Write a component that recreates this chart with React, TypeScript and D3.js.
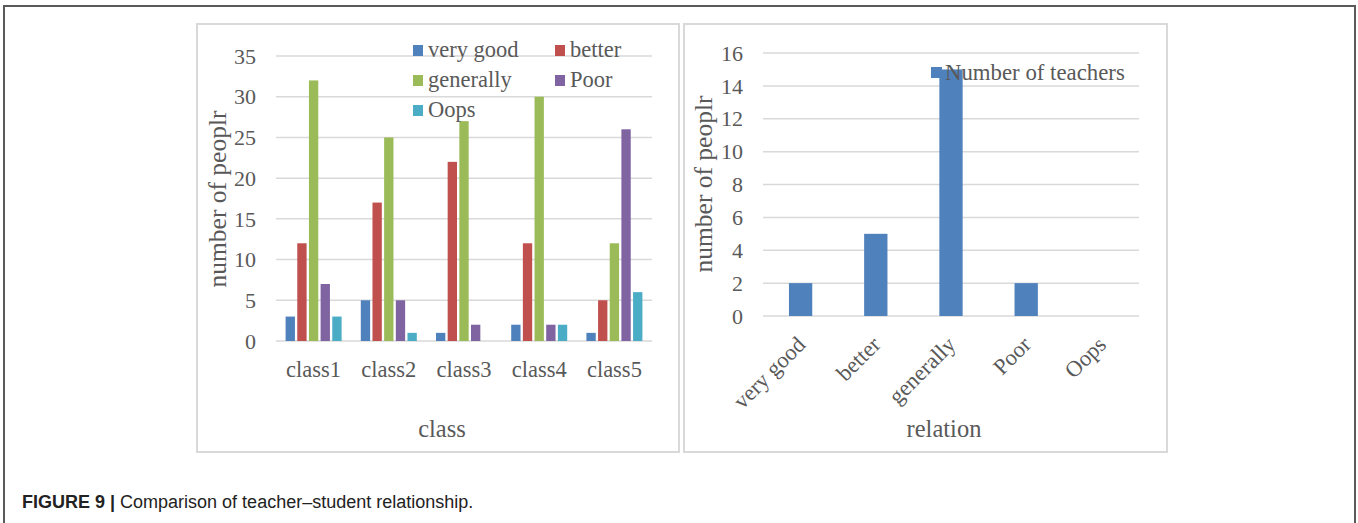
import React from "react";
import * as d3 from "d3";

// Student ratings per class
const classes = ["class1", "class2", "class3", "class4", "class5"];
const ratingNames = ["very good", "better", "generally", "Poor", "Oops"];
const veryGood = [3, 5, 1, 2, 1];
const better = [12, 17, 22, 12, 5];
const generally = [32, 25, 27, 30, 12];
const poor = [7, 5, 2, 2, 26];
const oops = [3, 1, 0, 2, 6];
const studentTicks = [0, 5, 10, 15, 20, 25, 30, 35];

// Teacher ratings
const teacherCounts = [2, 5, 15, 2, 0];
const teacherTicks = [0, 2, 4, 6, 8, 10, 12, 14, 16];

const seriesColors = ["#4f81bd", "#c0504d", "#9bbb59", "#8064a2", "#4bacc6"];
const studentSeries = [veryGood, better, generally, poor, oops];

const W = 1358;
const H = 523;
const SERIF = "'Liberation Serif', 'Times New Roman', serif";
const TEXT = "#595959";
const GRID = "#d9d9d9";

function StudentChart() {
  const x = d3.scaleBand<string>().domain(classes).range([276, 652]).padding(0);
  const y = d3.scaleLinear().domain([0, 35]).range([341, 56]);
  const inner = d3
    .scaleBand<string>()
    .domain(ratingNames)
    .range([-28, 28])
    .paddingInner(0.2);
  const legendPos = [
    [413, 45],
    [555, 45],
    [413, 75],
    [555, 75],
    [413, 105],
  ];
  return (
    <g>
      <rect x={197} y={24} width={482} height={428} fill="#fff" stroke={GRID} strokeWidth={2} />
      {studentTicks.map((t) => (
        <g key={t}>
          <line x1={276} x2={652} y1={y(t)} y2={y(t)} stroke={GRID} strokeWidth={1.5} />
          <text x={256} y={y(t)} dy="0.35em" textAnchor="end" fontSize={22} fill={TEXT} fontFamily={SERIF}>
            {t}
          </text>
        </g>
      ))}
      {studentSeries.map((vals, si) =>
        vals.map((v, ci) => {
          const cx = (x(classes[ci]) as number) + x.bandwidth() / 2;
          return (
            <rect
              key={`${si}-${ci}`}
              x={cx + (inner(ratingNames[si]) as number)}
              y={y(v)}
              width={inner.bandwidth()}
              height={y(0) - y(v)}
              fill={seriesColors[si]}
            />
          );
        })
      )}
      {classes.map((c) => (
        <text
          key={c}
          x={(x(c) as number) + x.bandwidth() / 2}
          y={377}
          textAnchor="middle"
          fontSize={22.5}
          fill={TEXT}
          fontFamily={SERIF}
        >
          {c}
        </text>
      ))}
      <text x={442} y={437} textAnchor="middle" fontSize={24.5} fill={TEXT} fontFamily={SERIF}>
        class
      </text>
      <text
        transform="translate(226,199) rotate(-90)"
        textAnchor="middle"
        fontSize={25.5}
        fill={TEXT}
        fontFamily={SERIF}
      >
        number of peoplr
      </text>
      {ratingNames.map((n, i) => (
        <g key={n}>
          <rect x={legendPos[i][0]} y={legendPos[i][1]} width={10} height={11} fill={seriesColors[i]} />
          <text
            x={legendPos[i][0] + 15}
            y={legendPos[i][1] + 11.5}
            fontSize={22.5}
            fill={TEXT}
            fontFamily={SERIF}
          >
            {n}
          </text>
        </g>
      ))}
    </g>
  );
}

function TeacherChart() {
  const x = d3
    .scaleBand<string>()
    .domain(ratingNames)
    .range([763, 1139])
    .paddingInner(0.69)
    .paddingOuter(0.345);
  const y = d3.scaleLinear().domain([0, 16]).range([316, 53]);
  return (
    <g>
      <rect x={684} y={24} width={483} height={428} fill="#fff" stroke={GRID} strokeWidth={2} />
      {teacherTicks.map((t) => (
        <g key={t}>
          <line x1={763} x2={1139} y1={y(t)} y2={y(t)} stroke={GRID} strokeWidth={1.5} />
          <text x={743} y={y(t)} dy="0.35em" textAnchor="end" fontSize={22} fill={TEXT} fontFamily={SERIF}>
            {t}
          </text>
        </g>
      ))}
      {teacherCounts.map((v, i) => (
        <rect
          key={i}
          x={x(ratingNames[i]) as number}
          y={y(v)}
          width={x.bandwidth()}
          height={y(0) - y(v)}
          fill={seriesColors[0]}
        />
      ))}
      {ratingNames.map((n) => {
        const cx = (x(n) as number) + x.bandwidth() / 2;
        return (
          <text
            key={n}
            transform={`translate(${cx + 6},346) rotate(-45)`}
            textAnchor="end"
            fontSize={22.5}
            fill={TEXT}
            fontFamily={SERIF}
          >
            {n}
          </text>
        );
      })}
      <text x={944} y={437} textAnchor="middle" fontSize={24.5} fill={TEXT} fontFamily={SERIF}>
        relation
      </text>
      <text
        transform="translate(712,184) rotate(-90)"
        textAnchor="middle"
        fontSize={25.5}
        fill={TEXT}
        fontFamily={SERIF}
      >
        number of peoplr
      </text>
      <rect x={931} y={67} width={11} height={11} fill={seriesColors[0]} />
      <text x={945} y={80} fontSize={22.8} fill={TEXT} fontFamily={SERIF}>
        Number of teachers
      </text>
    </g>
  );
}

export default function App() {
  return (
    <svg
      width={W}
      height={H}
      viewBox={`0 0 ${W} ${H}`}
      style={{ position: "absolute", left: 0, top: 0, background: "#fff" }}
    >
      <rect x={0} y={0} width={W} height={H} fill="#fff" />
      <path d={`M4,${H + 5} L4,6 L1355,6 L1355,${H + 5}`} fill="none" stroke="#5a5a5a" strokeWidth={2} />
      <StudentChart />
      <TeacherChart />
      <text x={22} y={508} fontSize={18} fill="#222" fontFamily="'Liberation Sans', Arial, sans-serif">
        <tspan fontWeight="bold">FIGURE 9 | </tspan>
        <tspan>Comparison of teacher–student relationship.</tspan>
      </text>
    </svg>
  );
}
